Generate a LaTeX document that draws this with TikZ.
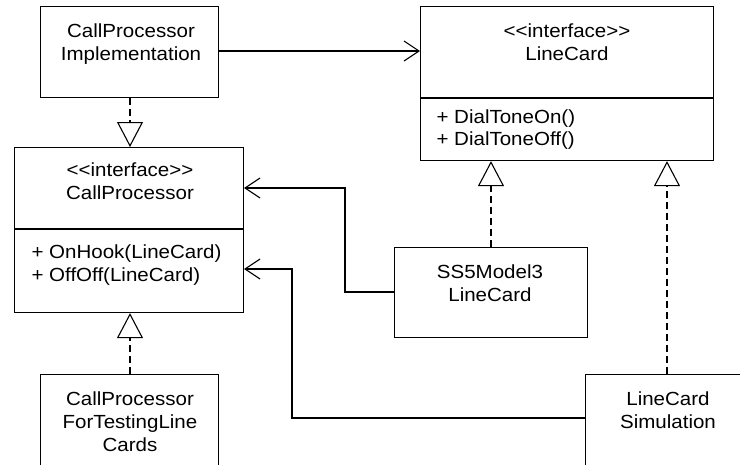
\documentclass[tikz,border=0pt]{standalone}
\usepackage{fontspec}
\setmainfont{Liberation Sans}[FakeStretch=1.08]
\usetikzlibrary{arrows.meta}
\newcommand{\stereo}[1]{<\kern0pt<#1>\kern0pt>}
\begin{document}
\begin{tikzpicture}[x=1pt,y=-1pt,
  line width=1.1pt,
  box/.style={draw, rectangle, inner sep=0pt, anchor=north west},
  lbl/.style={inner sep=0pt, anchor=base, font=\fontsize{19}{23}\selectfont},
  mth/.style={inner sep=0pt, anchor=base west, font=\fontsize{19}{23}\selectfont},
  assoc/.style={-{Straight Barb[length=15pt,width=20pt,line width=1.1pt]}},
  realize/.style={dash pattern=on 7pt off 4pt, -{Triangle[open,length=25pt,width=26pt,line width=1.1pt,fill=white]}}]
\useasboundingbox (0,0) rectangle (740,464);
% CallProcessor Implementation
\node[box, minimum width=178pt, minimum height=91pt] (cpi) at (40,6) {};
\node[lbl] (cpi1) at (131,37) {CallProcessor};
\node[lbl] (cpi2) at (131,60) {Implementation};
% LineCard interface
\node[box, minimum width=293pt, minimum height=154pt] (lc) at (420,6) {};
\draw (lc.west |- 0,98) coordinate (lcdl) -- (lc.east |- 0,98) coordinate (lcdr);
\node[lbl] (lc1) at (567,37) {\stereo{interface}};
\node[lbl] (lc2) at (567,60) {LineCard};
\node[mth] (lc3) at (436,123) {+ DialToneOn()};
\node[mth] (lc4) at (436,145) {+ DialToneOff()};
% CallProcessor interface
\node[box, minimum width=229pt, minimum height=165pt] (cp) at (14,147) {};
\draw (cp.west |- 0,229) coordinate (cpdl) -- (cp.east |- 0,229) coordinate (cpdr);
\node[lbl] (cp1) at (130,176) {\stereo{interface}};
\node[lbl] (cp2) at (130,199) {CallProcessor};
\node[mth] (cp3) at (31,258) {+ OnHook(LineCard)};
\node[mth] (cp4) at (31,281) {+ OffOff(LineCard)};
% SS5Model3 LineCard
\node[box, minimum width=193pt, minimum height=90pt] (ss5) at (394,247) {};
\node[lbl] (ss51) at (490,278) {SS5Model3};
\node[lbl] (ss52) at (490,301) {LineCard};
% CallProcessor ForTestingLineCards
\node[box, minimum width=178pt, minimum height=110pt] (cpt) at (40,374) {};
\node[lbl] (cpt1) at (130,405) {CallProcessor};
\node[lbl] (cpt2) at (130,428) {ForTestingLine};
\node[lbl] (cpt3) at (130,451) {Cards};
% LineCard Simulation
\node[box, minimum width=166pt, minimum height=110pt] (lcs) at (585,374) {};
\node[lbl] (lcs1) at (668,405) {LineCard};
\node[lbl] (lcs2) at (668,428) {Simulation};
% connectors
\draw[assoc] (cpi.east |- 0,51) -- (lc.west |- 0,51);
\draw[realize] (cpi.south -| 130,0) -- (cp.north -| 130,0);
\draw[realize] (cpt.north -| 130,0) -- (cp.south -| 130,0);
\draw[realize] (ss5.north -| 491,0) -- (lc.south -| 491,0);
\draw[realize] (lcs.north -| 667,0) -- (lc.south -| 667,0);
\draw[assoc] (ss5.west |- 0,292) -| (345,188) -- (cp.east |- 0,188);
\draw[assoc] (lcs.west |- 0,418) -| (292,269) -- (cp.east |- 0,269);
\end{tikzpicture}
\end{document}
